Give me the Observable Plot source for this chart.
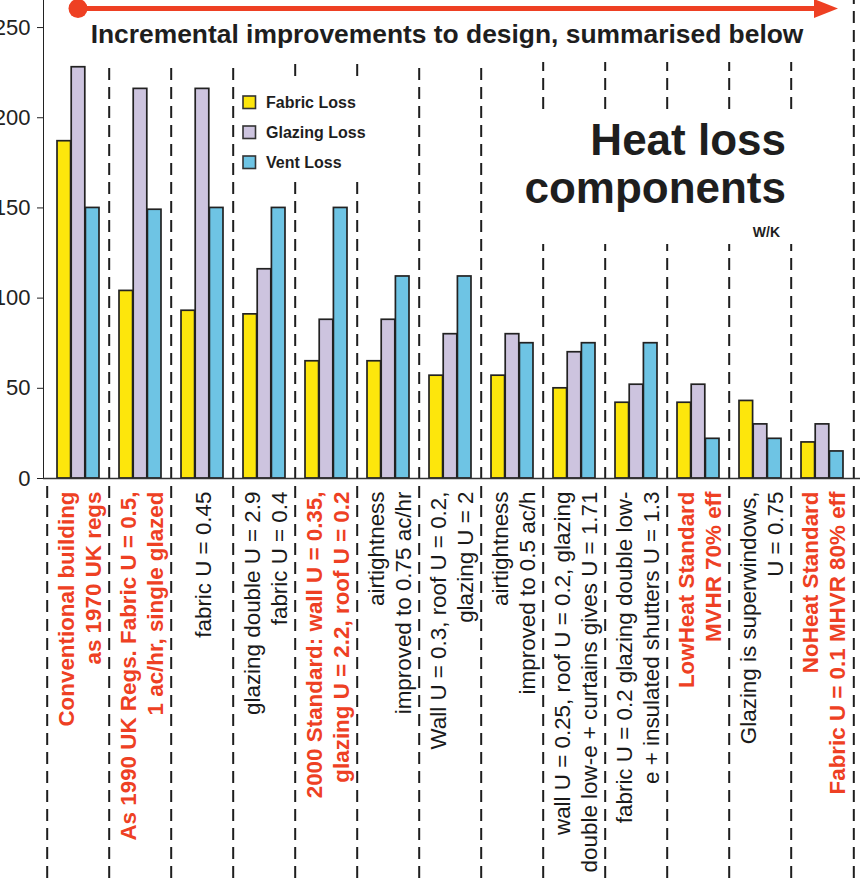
<!DOCTYPE html>
<html><head><meta charset="utf-8">
<script src="https://cdn.jsdelivr.net/npm/d3@7"></script>
<script src="https://cdn.jsdelivr.net/npm/@observablehq/plot@0.6"></script>
<style>
html,body{margin:0;padding:0;background:#fff;}
#chart{position:relative;width:864px;height:878px;overflow:hidden;}
</style></head><body><div id="chart"></div>
<script>
const categories = [
  "Conventional building\nas 1970 UK regs",
  "As 1990 UK Regs. Fabric U = 0.5,\n1 ac/hr, single glazed",
  "fabric U = 0.45",
  "glazing double U = 2.9\nfabric U = 0.4",
  "2000 Standard: wall U = 0.35,\nglazing U = 2.2, roof U = 0.2",
  "airtightness\nimproved to 0.75 ac/hr",
  "Wall U = 0.3, roof U = 0.2,\nglazing U = 2",
  "airtightness\nimproved to 0.5 ac/h",
  "wall U = 0.25, roof U = 0.2, glazing\ndouble low-e + curtains gives U = 1.71",
  "fabric U = 0.2 glazing double low-\ne + insulated shutters U = 1.3",
  "LowHeat Standard\nMVHR 70% eff",
  "Glazing is superwindows,\nU = 0.75",
  "NoHeat Standard\nFabric U = 0.1 MHVR 80% eff"
];
const highlighted = [true, true, false, false, true, false, false, false, false, false, true, false, true];
const seriesNames = ["Fabric Loss", "Glazing Loss", "Vent Loss"];
const fabricLoss  = [187, 104, 93, 91, 65, 65, 57, 57, 50, 42, 42, 43, 20];
const glazingLoss = [228, 216, 216, 116, 88, 88, 80, 80, 70, 52, 52, 30, 30];
const ventLoss    = [150, 149, 150, 150, 150, 112, 112, 75, 75, 75, 22, 22, 15];
const titleText = "Incremental improvements to design, summarised below";
const heatTitle = ["Heat loss", "components"];
const unitText = "W/K";

const W = 864, H = 878, mL = 43, mR = 7, mB = 400, yMax = 265;
const plotBottom = H - mB;
const bw = (W - mL - mR) / categories.length;
const barW = 14.2, barPad = (bw - 3 * barW) / 2;
const yv = px => (plotBottom - px) * yMax / plotBottom; // pixel -> value helper for rule extents
const red = "#ee4023";
const colors = ["#fde60c", "#cdc4df", "#6ec4e4"];
const values = [fabricLoss, glazingLoss, ventLoss];

const rows = [];
seriesNames.forEach((s, k) => categories.forEach((c, i) => rows.push({cat: c, series: s, value: values[k][i]})));

const legendHidden = new Set([4, 5]);
const titleHidden = new Set([8, 9, 10, 11, 12]);
const seps = [];
categories.forEach((c, i) => {
  if (i === 0) { seps.push({cat: c, y1: yv(H), y2: 0}); return; }
  if (legendHidden.has(i)) {
    seps.push({cat: c, y1: yv(H), y2: yv(178)}, {cat: c, y1: yv(76), y2: yv(62)});
  } else if (titleHidden.has(i)) {
    seps.push({cat: c, y1: yv(H), y2: yv(244)}, {cat: c, y1: yv(109), y2: yv(62)});
  } else {
    seps.push({cat: c, y1: yv(H), y2: yv(62)});
  }
});
const lastSep = [{cat: categories[categories.length - 1], y1: yv(H), y2: yMax}];

const dashStyle = {stroke: "#1e1e1e", strokeWidth: 2, strokeDasharray: "12,7"};

const barMarks = seriesNames.map((s, k) => Plot.barY(rows.filter(r => r.series === s), {
  x: "cat", y: "value", fill: "series",
  insetLeft: barPad + barW * k, insetRight: bw - barPad - barW * (k + 1),
  stroke: "#222", strokeWidth: 1.7
}));

const textOpts = {
  x: d => d, text: d => d, frameAnchor: "bottom", dy: 13, rotate: -90,
  textAnchor: "end", lineAnchor: "middle", lineHeight: 1.22, fontSize: 22.4
};

const plot = Plot.plot({
  width: W, height: H,
  marginLeft: mL, marginRight: mR, marginTop: 0, marginBottom: mB,
  style: {fontFamily: "'Liberation Sans', Arial, sans-serif", fontSize: "22px", color: "#222", background: "#fff", overflow: "visible"},
  x: {domain: categories, padding: 0, axis: null},
  y: {domain: [0, yMax], ticks: 5, tickSize: 6, tickPadding: 7, label: null, line: true},
  color: {domain: seriesNames, range: colors},
  marks: [
    Plot.ruleX(seps, {x: "cat", y1: "y1", y2: "y2", dx: -bw / 2, ...dashStyle}),
    Plot.ruleX(lastSep, {x: "cat", y1: "y1", y2: "y2", dx: bw / 2, ...dashStyle}),
    ...barMarks,
    Plot.ruleY([0], {stroke: "#333", strokeWidth: 1.5, insetRight: -3}),
    Plot.text(categories.filter((c, i) => highlighted[i]), {...textOpts, fill: red, fontWeight: "bold"}),
    Plot.text(categories.filter((c, i) => !highlighted[i]), {...textOpts, fill: "#1a1a1a"})
  ]
});
document.getElementById("chart").appendChild(plot);

// Annotations: arrow, titles, legend
const svg = d3.select(plot);
const ann = svg.append("g").attr("font-family", "'Liberation Sans', Arial, sans-serif");
ann.append("line").attr("x1", 78).attr("x2", 818).attr("y1", 8.5).attr("y2", 8.5)
  .attr("stroke", red).attr("stroke-width", 5);
ann.append("circle").attr("cx", 78).attr("cy", 8.5).attr("r", 9.5).attr("fill", red);
ann.append("path").attr("d", "M814,-1 L838,8.5 L814,18 Z").attr("fill", red);
ann.append("text").attr("x", 447).attr("y", 43).attr("text-anchor", "middle")
  .attr("font-size", 26.4).attr("font-weight", "bold").attr("fill", "#1e1e1e").text(titleText);

heatTitle.forEach((t, i) => ann.append("text").attr("x", 786).attr("y", 155 + 48 * i)
  .attr("text-anchor", "end").attr("font-size", 44).attr("font-weight", "bold").attr("fill", "#1e1e1e").text(t));
ann.append("text").attr("x", 780).attr("y", 237).attr("text-anchor", "end")
  .attr("font-size", 14).attr("font-weight", "bold").attr("fill", "#1e1e1e").text(unitText);

const color = plot.scale("color");
seriesNames.forEach((s, i) => {
  const cy = 102 + 30 * i;
  ann.append("rect").attr("x", 243).attr("y", cy - 6).attr("width", 12.5).attr("height", 12.5)
    .attr("fill", color.apply(s)).attr("stroke", "#333").attr("stroke-width", 1.6);
  ann.append("text").attr("x", 266).attr("y", cy + 6).attr("text-anchor", "start")
    .attr("font-size", 16).attr("font-weight", "bold").attr("fill", "#1e1e1e").text(s);
});
</script>
</body></html>
